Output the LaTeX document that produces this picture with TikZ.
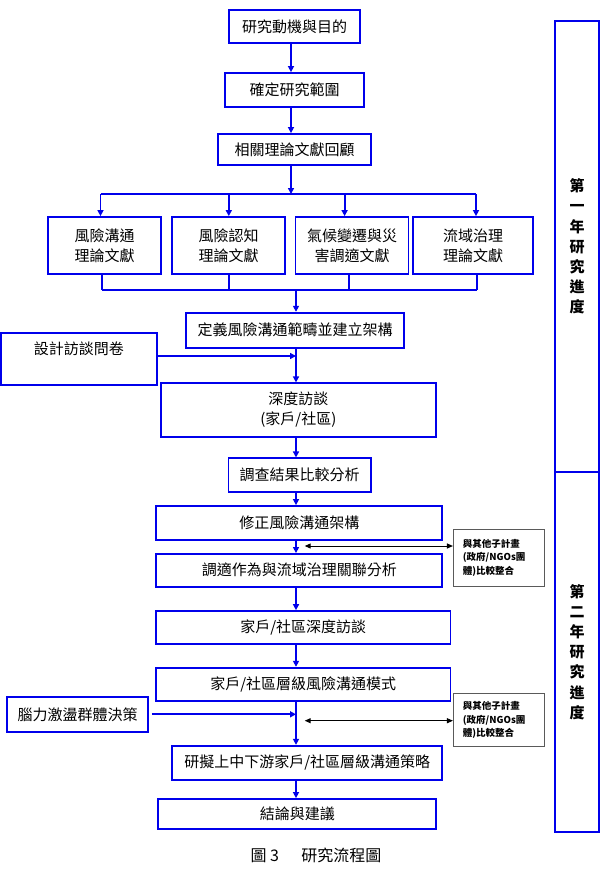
\documentclass[tikz,border=0pt]{standalone}
\usepackage{fontspec}
\setmainfont{Noto Sans CJK TC}
\usetikzlibrary{arrows.meta,calc}
\definecolor{bl}{RGB}{0,0,235}
\definecolor{sidegray}{RGB}{90,90,90}
\tikzset{
  box/.style={draw=bl, line width=1.8pt, inner sep=0pt, align=center,
    font=\fontsize{15}{20}\selectfont},
  arr/.style={draw=bl, line width=1.8pt, -{Triangle[length=6pt,width=6pt]}},
  ln/.style={draw=bl, line width=1.8pt},
  sidebox/.style={draw=sidegray, line width=0.9pt, inner sep=0pt, align=left,
    text width=72pt, minimum width=91pt, font=\bfseries\fontsize{9.5}{13.3}\selectfont},
  dbl/.style={draw=black, line width=1pt,
    {Triangle[length=6pt,width=5pt]}-{Triangle[length=6pt,width=5pt]}},
  barbox/.style={draw=bl, line width=1.8pt, inner sep=0pt, align=center,
    font=\bfseries\fontsize{15}{20.2}\selectfont},
}
\begin{document}
\begin{tikzpicture}[x=1pt,y=-1pt]
\useasboundingbox (0,0) rectangle (601,887);

% top column
\node[box, minimum width=131pt, minimum height=33pt] (n1) at (294.5,26.5) {研究動機與目的};
\node[box, minimum width=139pt, minimum height=34pt] (n2) at (294.5,90) {確定研究範圍};
\node[box, minimum width=153pt, minimum height=31pt] (n3) at (294.5,149.5) {相關理論文獻回顧};

% four literature boxes
\node[box, minimum width=113pt, minimum height=57pt] (b1) at (104.5,245.5) {風險溝通\\理論文獻};
\node[box, minimum width=113pt, minimum height=57pt] (b2) at (228.5,245.5) {風險認知\\理論文獻};
\node[box, minimum width=113pt, minimum height=57pt] (b3) at (352,245.5) {氣候變遷與災\\害調適文獻};
\node[box, minimum width=120pt, minimum height=57pt] (b4) at (473,245.5) {流域治理\\理論文獻};

% middle
\node[box, minimum width=217.6pt, minimum height=35pt] (def) at (295,330.2) {定義風險溝通範疇並建立架構};
\node[box, minimum width=155.8pt, minimum height=52pt] (design) at (78.9,359.3) {};
\node[font=\fontsize{15}{20}\selectfont, inner sep=0pt] (designlbl) at (78.9,349) {設計訪談問卷};
\node[box, minimum width=274.8pt, minimum height=53.4pt] (deep) at (298.4,410) {深度訪談\\(家戶/社區)};
\node[box, minimum width=142.2pt, minimum height=33.7pt] (survey) at (299.5,475.2) {調查結果比較分析};
\node[box, minimum width=286pt, minimum height=34pt] (revise) at (299.3,523) {修正風險溝通架構};
\node[box, minimum width=286pt, minimum height=32.7pt] (adapt) at (299.3,570.3) {調適作為與流域治理關聯分析};
\node[sidebox, minimum height=57.7pt] (side1) at (498.9,557.8) {與其他子計畫\\(政府/NGOs團\\體)比較整合};

% lower
\node[box, minimum width=294.4pt, minimum height=33.3pt] (hh1) at (303.2,627.7) {家戶/社區深度訪談};
\node[box, minimum width=294.4pt, minimum height=33pt] (hh2) at (303.2,684.2) {家戶/社區層級風險溝通模式};
\node[box, minimum width=141pt, minimum height=34.7pt] (brain) at (77.5,714.3) {腦力激盪群體決策};
\node[sidebox, minimum height=52.3pt] (side2) at (498.9,719.9) {與其他子計畫\\(政府/NGOs團\\體)比較整合};
\node[box, minimum width=270.3pt, minimum height=34.3pt] (plan) at (307.2,762.9) {研擬上中下游家戶/社區層級溝通策略};
\node[box, minimum width=278pt, minimum height=30pt] (concl) at (297.3,814) {結論與建議};

% right progress bar
\node[barbox, minimum width=44pt, minimum height=451pt] (bar1) at (577,246.5) {第\\一\\年\\研\\究\\進\\度};
\node[barbox, minimum width=44pt, minimum height=360pt] (bar2) at (577,652) {第\\二\\年\\研\\究\\進\\度};

% caption
\node[font=\fontsize{16}{18}\selectfont, inner sep=0pt] (cap) at (316,855) {圖 3\hspace{1.4em}研究流程圖};

% spine coordinates
\coordinate (sp1) at (291,0);
\coordinate (sp2) at (296,0);
\coordinate (br) at (291,194);
\coordinate (mg) at (296,290);
\coordinate (j1) at (100.5,194);
\coordinate (j2) at (228.8,194);
\coordinate (j3) at (344.6,194);
\coordinate (j4) at (476,194);
\coordinate (k1) at (101.6,290);
\coordinate (k2) at (229,290);
\coordinate (k3) at (349,290);
\coordinate (k4) at (476.8,290);
\coordinate (dj) at (296,356);
\coordinate (bj) at (296,714.3);
\coordinate (d1) at (304.7,546);
\coordinate (d2) at (304.7,720.7);

% top arrows
\draw[arr] (sp1 |- n1.south) -- (sp1 |- n2.north);
\draw[arr] (sp1 |- n2.south) -- (sp1 |- n3.north);
\draw[arr] (sp1 |- n3.south) -- (br);
\draw[ln] (j1) -- (j4);
\draw[arr] (j1) -- (j1 |- b1.north);
\draw[arr] (j2) -- (j2 |- b2.north);
\draw[arr] (j3) -- (j3 |- b3.north);
\draw[arr] (j4) -- (j4 |- b4.north);

% merge
\draw[ln] (k1 |- b1.south) -- (k1);
\draw[ln] (k2 |- b2.south) -- (k2);
\draw[ln] (k3 |- b3.south) -- (k3);
\draw[ln] (k4 |- b4.south) -- (k4);
\draw[ln] (k1) -- (k4);
\draw[arr] (mg) -- (sp2 |- def.north);

% middle arrows
\draw[arr] (sp2 |- def.south) -- (sp2 |- deep.north);
\draw[arr] (design.east |- dj) -- (dj);
\draw[arr] (sp2 |- deep.south) -- (sp2 |- survey.north);
\draw[arr] (sp2 |- survey.south) -- (sp2 |- revise.north);
\draw[arr] (sp2 |- revise.south) -- (sp2 |- adapt.north);
\draw[dbl] (d1) -- (side1.west |- d1);

% lower arrows
\draw[arr] (sp2 |- adapt.south) -- (sp2 |- hh1.north);
\draw[arr] (sp2 |- hh1.south) -- (sp2 |- hh2.north);
\draw[arr] (sp2 |- hh2.south) -- (sp2 |- plan.north);
\draw[arr] ([xshift=3pt]brain.east) -- (bj);
\draw[dbl] (d2) -- (side2.west |- d2);
\draw[arr] (sp2 |- plan.south) -- (sp2 |- concl.north);
\end{tikzpicture}
\end{document}
